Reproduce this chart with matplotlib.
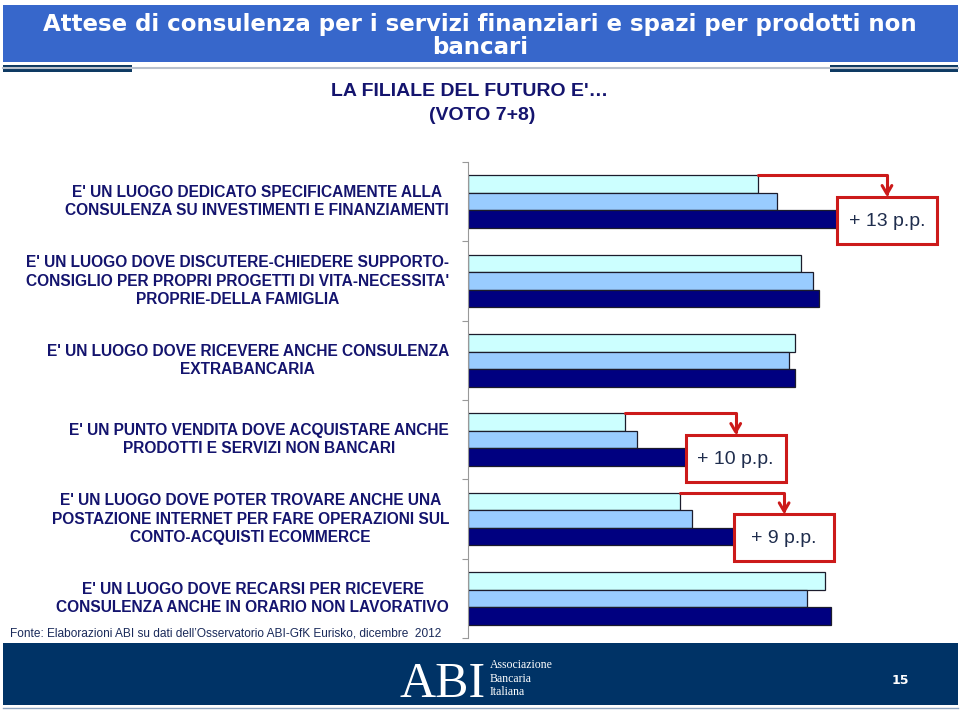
import matplotlib
matplotlib.use("Agg")
import matplotlib.pyplot as plt
from matplotlib.patches import Rectangle
import numpy as np

# data (percent voting 7+8)
categories = [
    "E' UN LUOGO DEDICATO SPECIFICAMENTE ALLA\nCONSULENZA SU INVESTIMENTI E FINANZIAMENTI",
    "E' UN LUOGO DOVE DISCUTERE-CHIEDERE SUPPORTO-\nCONSIGLIO PER PROPRI PROGETTI DI VITA-NECESSITA'\nPROPRIE-DELLA FAMIGLIA",
    "E' UN LUOGO DOVE RICEVERE ANCHE CONSULENZA\nEXTRABANCARIA",
    "E' UN PUNTO VENDITA DOVE ACQUISTARE ANCHE\nPRODOTTI E SERVIZI NON BANCARI",
    "E' UN LUOGO DOVE POTER TROVARE ANCHE UNA\nPOSTAZIONE INTERNET PER FARE OPERAZIONI SUL\nCONTO-ACQUISTI ECOMMERCE",
    "E' UN LUOGO DOVE RECARSI PER RICEVERE\nCONSULENZA ANCHE IN ORARIO NON LAVORATIVO",
]
series_1 = [48, 55, 54, 26, 35, 59]   # light cyan (top bar)
series_2 = [51, 57, 53, 28, 37, 56]   # light blue (middle bar)
series_3 = [61, 58, 54, 36, 44, 60]   # navy (bottom bar)
highlight = [0, 3, 4]                 # groups with the +p.p. callout

title_lines = ["Attese di consulenza per i servizi finanziari e spazi per prodotti non", "bancari"]
subtitle_lines = ["LA FILIALE DEL FUTURO E'\u2026", "(VOTO 7+8)"]
source = "Fonte: Elaborazioni ABI su dati dell\u2019Osservatorio ABI-GfK Eurisko, dicembre  2012"

navy_txt = "#14146e"
red = "#cc1a1a"
sans = ["Liberation Sans", "DejaVu Sans"]

fig = plt.figure(figsize=(9.6, 7.16), dpi=100)

# header banner
fig.add_artist(Rectangle((3 / 960, 1 - 62 / 716), 955 / 960, 57 / 716,
                         transform=fig.transFigure, facecolor="#3767cb", edgecolor="none"))
for k, line in enumerate(title_lines):
    fig.text(480 / 960, 1 - (24 + 24 * k) / 716, line, color="white", fontsize=16.5,
             fontweight="bold", ha="center", va="center", family="DejaVu Sans")
fig.add_artist(plt.Line2D([3 / 960, 958 / 960], [1 - 68 / 716] * 2, transform=fig.transFigure,
                          color="#b8c0cc", lw=1.5))
fig.add_artist(Rectangle((3 / 960, 1 - 72 / 716), 129 / 960, 7 / 716,
                         transform=fig.transFigure, facecolor="#0e3a63", edgecolor="none"))
fig.add_artist(Rectangle((830 / 960, 1 - 72 / 716), 128 / 960, 7 / 716,
                         transform=fig.transFigure, facecolor="#0e3a63", edgecolor="none"))

for k, line in enumerate(subtitle_lines):
    fig.text((470 + 12 * k) / 960, 1 - (92 + 23 * k) / 716, line, color=navy_txt,
             fontsize=14, fontweight="bold", ha="center", va="center", family=sans)

# chart
ax = fig.add_axes([468 / 960, 78 / 716, 484 / 960, 476 / 716])
y = np.arange(len(categories))
h = 0.22
ax.barh(y - h, series_1, height=h, color="#ccffff", edgecolor="#1c1c2c", lw=0.9, zorder=2)
ax.barh(y, series_2, height=h, color="#99ccff", edgecolor="#1c1c2c", lw=0.9, zorder=2)
ax.barh(y + h, series_3, height=h, color="#000080", edgecolor="#1c1c2c", lw=0.9, zorder=2)

ax.set_xlim(0, 80)
ax.set_ylim(len(categories) - 0.5, -0.5)
ax.set_yticks(np.arange(len(categories) + 1) - 0.5)
ax.set_yticklabels([])
ax.set_xticks([])
ax.tick_params(axis="y", length=4, color="#999999", direction="out")
for s in ["top", "right", "bottom"]:
    ax.spines[s].set_visible(False)
ax.spines["left"].set_color("#999999")
ax.patch.set_alpha(0)

for i, lab in enumerate(categories):
    ax.text(-19 / 6.05, i, lab, transform=ax.transData, ha="right", va="center",
            multialignment="center", fontsize=11.2, fontweight="bold", color=navy_txt,
            family=sans, linespacing=1.28, clip_on=False)

box_w = 16.5
for i in highlight:
    x0 = series_3[i]
    top = i - 0.06
    ax.add_patch(Rectangle((x0, top), box_w, 0.59, facecolor="white", edgecolor=red,
                           lw=2.2, zorder=4, clip_on=False))
    ax.text(x0 + box_w / 2, top + 0.31, "+ %d p.p." % (series_3[i] - series_1[i]),
            ha="center", va="center", fontsize=14, color="#1f2d4d", zorder=5,
            family=sans, clip_on=False)
    ax.annotate("", xy=(x0 + box_w / 2, top), xytext=(series_1[i], i - h - h / 2),
                arrowprops=dict(arrowstyle="->,head_width=0.35,head_length=0.6", color=red,
                                lw=2.2, shrinkA=0, shrinkB=0,
                                connectionstyle="angle,angleA=0,angleB=90,rad=0"),
                zorder=5, annotation_clip=False)

fig.text(10 / 960, 1 - 633 / 716, source, color="#1a2a5a", fontsize=8.6,
         ha="left", va="center", family=sans)

# footer banner
fig.add_artist(Rectangle((3 / 960, 1 - 705 / 716), 955 / 960, 62 / 716,
                         transform=fig.transFigure, facecolor="#003366", edgecolor="none"))
fig.add_artist(plt.Line2D([3 / 960, 958 / 960], [1 - 708 / 716] * 2, transform=fig.transFigure,
                          color="#8fa5c0", lw=1))
fig.text(400 / 960, 1 - 697 / 716, "ABI", color="white", fontsize=36, ha="left",
         va="baseline", family=["Liberation Serif", "DejaVu Serif"])
for k, w in enumerate(["Associazione", "Bancaria", "Italiana"]):
    fig.text(490 / 960, 1 - (665 + 13.5 * k) / 716, w, color="white", fontsize=8.5,
             ha="left", va="center", family=["Liberation Serif", "DejaVu Serif"])
fig.text(900 / 960, 1 - 680 / 716, "15", color="white", fontsize=9, fontweight="bold",
         ha="center", va="center")

fig.savefig("out.png", dpi=100)
